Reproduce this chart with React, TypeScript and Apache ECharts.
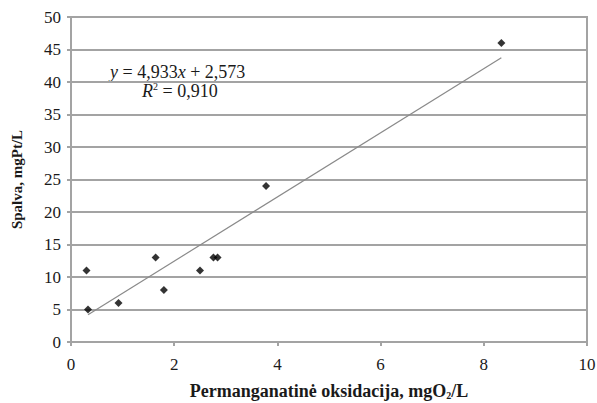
import React, { useEffect, useRef } from "react";
import * as echarts from "echarts";

const xValues = [0.3, 0.33, 0.92, 1.64, 1.8, 2.5, 2.76, 2.84, 3.78, 8.34];
const yValues = [11, 5, 6, 13, 8, 11, 13, 13, 24, 46];
const slope = 4.933;
const intercept = 2.573;
const xTicks = { min: 0, max: 10, interval: 2 };
const yTicks = { min: 0, max: 50, interval: 5 };

const FONT = "'Liberation Serif', 'Times New Roman', serif";
const GREY = "#a3a3a3";
const TEXT = "#1a1a1a";

export default function App() {
  const ref = useRef<HTMLDivElement>(null);
  useEffect(() => {
    if (!ref.current) return;
    const chart = echarts.init(ref.current, null, { renderer: "svg" });
    const pts = xValues.map((x, i) => [x, yValues[i]]);
    const xMin = Math.min(...xValues);
    const xMax = Math.max(...xValues);
    const trend = [
      [xMin + 0.03, slope * (xMin + 0.03) + intercept],
      [xMax, slope * xMax + intercept],
    ];
    chart.setOption({
      animation: false,
      backgroundColor: "#fff",
      grid: {
        left: 71,
        right: 10,
        top: 17,
        bottom: 61,
        containLabel: false,
        outerBoundsMode: "none",
        show: true,
        borderColor: GREY,
        borderWidth: 2,
      },
      xAxis: {
        type: "value",
        min: xTicks.min,
        max: xTicks.max,
        interval: xTicks.interval,
        axisLine: { show: true, lineStyle: { color: GREY, width: 2 } },
        axisTick: { show: true, inside: false, length: 4, lineStyle: { color: GREY, width: 2 } },
        splitLine: { show: false },
        axisLabel: { color: TEXT, fontFamily: FONT, fontSize: 17, margin: 14 },
        name: "Permanganatinė oksidacija, mgO{sub|2}/L",
        nameLocation: "middle",
        nameGap: 39,
        nameTextStyle: {
          color: TEXT,
          fontFamily: FONT,
          fontSize: 18,
          fontWeight: "bold",
          rich: {
            sub: { fontFamily: FONT, fontSize: 10, fontWeight: "bold", verticalAlign: "bottom", padding: [9, 0, 0, 0], color: TEXT },
          },
        },
      },
      yAxis: {
        type: "value",
        min: yTicks.min,
        max: yTicks.max,
        interval: yTicks.interval,
        axisLine: { show: true, lineStyle: { color: GREY, width: 2 } },
        axisTick: { show: true, length: 4, lineStyle: { color: GREY, width: 2 } },
        splitLine: { show: true, lineStyle: { color: GREY, width: 2 } },
        axisLabel: { color: TEXT, fontFamily: FONT, fontSize: 17, margin: 10 },
        name: "Spalva, mgPt/L",
        nameLocation: "middle",
        nameGap: 47,
        nameTextStyle: { color: TEXT, fontFamily: FONT, fontSize: 15, fontWeight: "bold" },
      },
      series: [
        {
          type: "line",
          data: trend,
          showSymbol: false,
          symbol: "none",
          lineStyle: { color: "#8a8a8a", width: 1.2 },
          z: 2,
        },
        {
          type: "scatter",
          data: pts,
          symbol: "diamond",
          symbolSize: 8,
          itemStyle: { color: "#000" },
          z: 3,
        },
      ],
      graphic: [
        {
          type: "text",
          left: 110,
          top: 63,
          style: {
            text: "{i|y} = 4,933{i|x} + 2,573",
            fontFamily: FONT,
            fontSize: 18,
            fill: TEXT,
            rich: { i: { fontFamily: FONT, fontSize: 18, fontStyle: "italic", fill: TEXT } },
          },
        },
        {
          type: "text",
          left: 142,
          top: 81,
          style: {
            text: "{i|R}{s|2} = 0,910",
            fontFamily: FONT,
            fontSize: 18,
            fill: TEXT,
            rich: {
              i: { fontFamily: FONT, fontSize: 18, fontStyle: "italic", fill: TEXT },
              s: { fontFamily: FONT, fontSize: 10, verticalAlign: "top", padding: [0, 0, 9, 0], fill: TEXT },
            },
          },
        },
      ],
    });
    return () => chart.dispose();
  }, []);
  return <div ref={ref} style={{ width: 597, height: 403, position: "absolute", left: 0, top: 0 }} />;
}
